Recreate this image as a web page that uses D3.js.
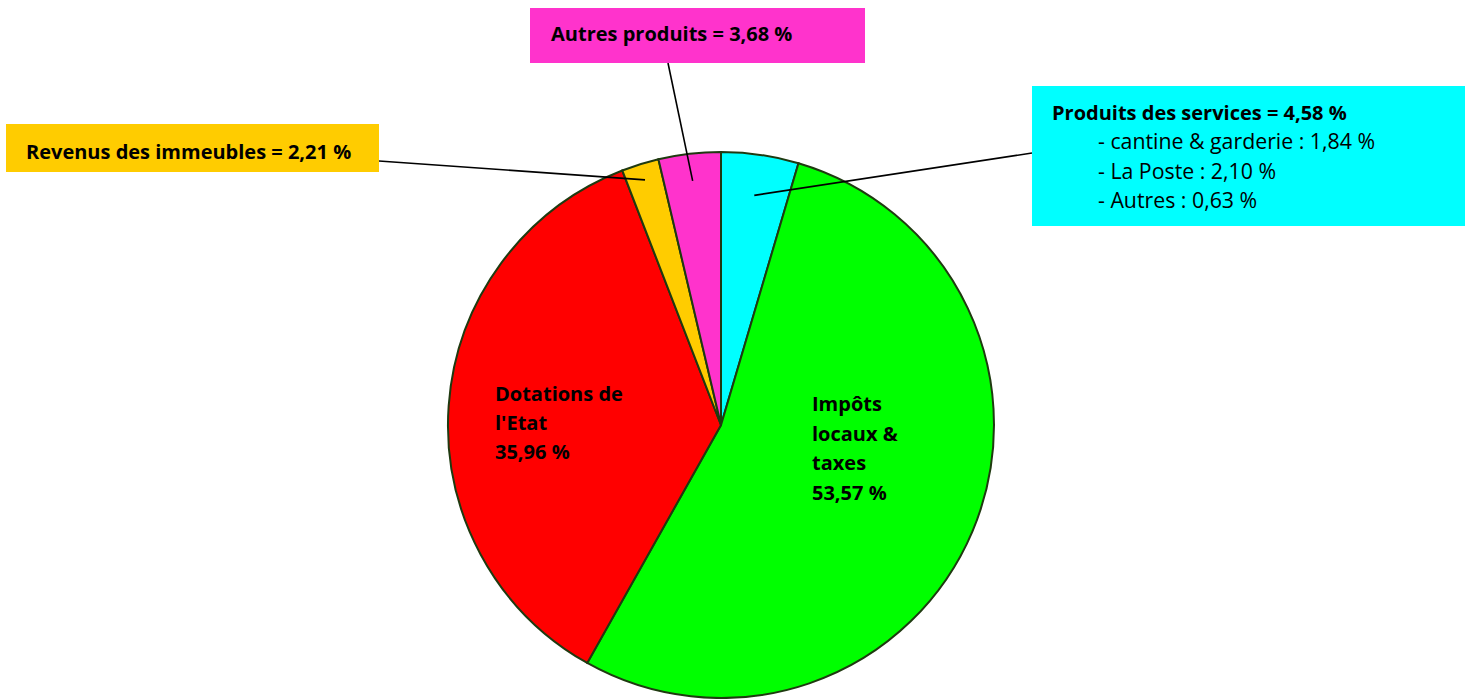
<!DOCTYPE html>
<html>
<head>
<meta charset="utf-8">
<script src="https://cdn.jsdelivr.net/npm/d3@7"></script>
<style>
  body { margin: 0; background: #fff; }
  svg text { font-family: "Open Sans", Lato, sans-serif; fill: #000; }
</style>
</head>
<body>
<svg id="chart" width="1473" height="699"></svg>
<script>
// slices, clockwise from 12 o'clock
const names = ["Produits des services", "Impôts locaux & taxes", "Dotations de l'Etat", "Revenus des immeubles", "Autres produits"];
const values = [4.58, 53.57, 35.96, 2.21, 3.68];
const colors = ["#00ffff", "#00ff00", "#ff0000", "#ffcc00", "#ff33cc"];
const servicesDetail = ["- cantine & garderie : 1,84 %", "- La Poste : 2,10 %", "- Autres : 0,63 %"];

function fmt(v) {
  return v.toFixed(2).replace(".", ",") + " %";
}

var svg = d3.select("#chart");
var cx = 721, cy = 425, r = 273;
var fs = "20px";
var g = svg.append("g").attr("transform", `translate(${cx},${cy})`);

var pie = d3.pie().sort(null).value(d => d)(values);
var arc = d3.arc().innerRadius(0).outerRadius(r);

g.selectAll("path.slice")
  .data(pie)
  .enter().append("path")
  .attr("class", "slice")
  .attr("d", arc)
  .attr("fill", (d, i) => colors[i])
  .attr("stroke", "#1f3a10")
  .attr("stroke-width", 2);

// point inside slice i at fraction k of the radius
function inner(i, k) {
  var a = (pie[i].startAngle + pie[i].endAngle) / 2;
  return [cx + Math.sin(a) * r * k, cy - Math.cos(a) * r * k];
}

// big labels inside slices
function multiLine(x, y, lines, step) {
  var t = svg.append("text").attr("x", x).attr("y", y)
    .style("font-size", fs).style("font-weight", "bold");
  lines.forEach((l, i) => {
    t.append("tspan").attr("x", x).attr("y", y + i * step).text(l);
  });
}
multiLine(495, 401, ["Dotations de", "l'Etat", fmt(values[2])], 29);
multiLine(812, 411, ["Impôts", "locaux &", "taxes", fmt(values[1])], 29.5);

// callout boxes
const boxes = [
  { i: 4, x: 530, y: 8, w: 335, h: 55, tx: 551, ty: 41, line: [668, 63], k: 0.9 },
  { i: 3, x: 6, y: 124, w: 373, h: 48, tx: 26, ty: 159, line: [379, 161], k: 0.94 },
  { i: 0, x: 1032, y: 86, w: 433, h: 140, tx: 1052, ty: 120, line: [1032, 153], k: 0.85 }
];

boxes.forEach(b => {
  var p = inner(b.i, b.k);
  svg.append("line")
    .attr("x1", b.line[0]).attr("y1", b.line[1])
    .attr("x2", p[0]).attr("y2", p[1])
    .attr("stroke", "#000").attr("stroke-width", 1.6);
  svg.append("rect")
    .attr("x", b.x).attr("y", b.y).attr("width", b.w).attr("height", b.h)
    .attr("fill", colors[b.i]);
  svg.append("text")
    .attr("x", b.tx).attr("y", b.ty)
    .style("font-size", fs).style("font-weight", "bold")
    .text(names[b.i] + " = " + fmt(values[b.i]));
});

servicesDetail.forEach((s, j) => {
  svg.append("text")
    .attr("x", 1098).attr("y", 149 + j * 29.5)
    .style("font-size", "21.3px")
    .text(s);
});
</script>
</body>
</html>
